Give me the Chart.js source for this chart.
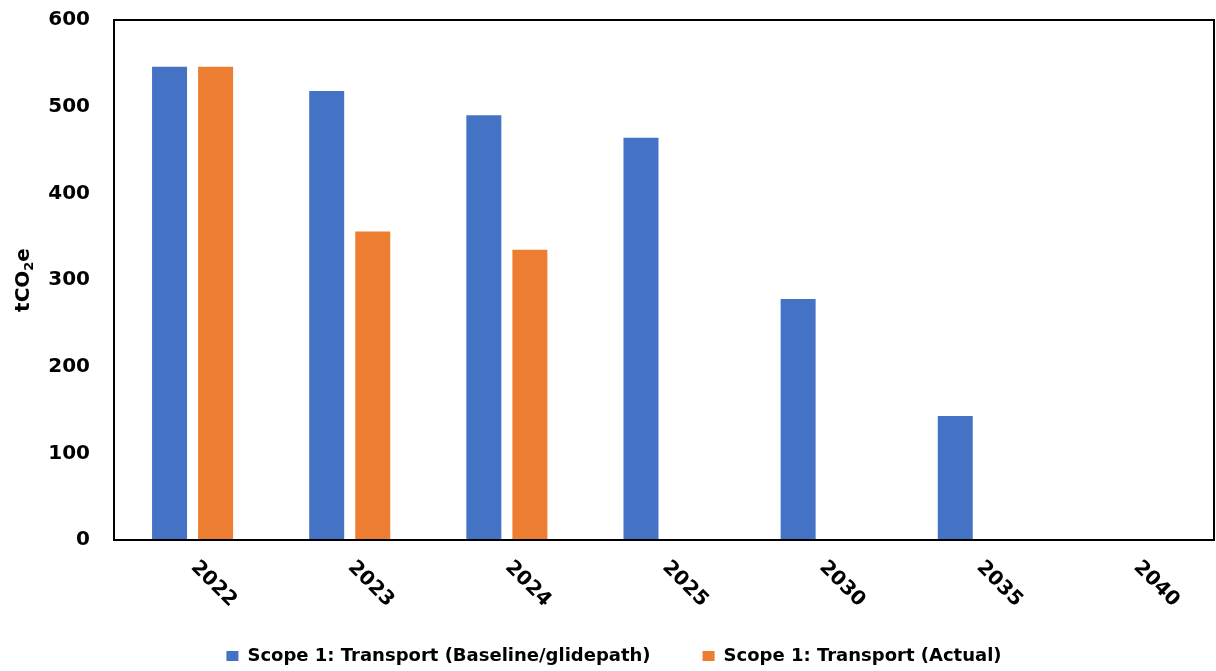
<!DOCTYPE html>
<html>
<head>
<meta charset="utf-8">
<script src="https://cdn.jsdelivr.net/npm/chart.js@4.4.1/dist/chart.umd.min.js"></script>
<style>
  html, body { margin: 0; padding: 0; background: #ffffff; }
  #wrap { width: 1216px; height: 671px; }
</style>
</head>
<body>
<div id="wrap"><canvas id="c"></canvas></div>
<script>
const years = ['2022', '2023', '2024', '2025', '2030', '2035', '2040'];
const baselineGlidepath = [546, 518, 490, 464, 278, 143, 0];
const actual = [546, 356, 335, null, null, null, null];
const yTicks = [0, 100, 200, 300, 400, 500, 600];

const FONT = '"DejaVu Sans", sans-serif';

// Frame around the plotting area
const frame = {
  id: 'frame',
  afterDatasetsDraw(chart) {
    const { ctx, chartArea: a } = chart;
    ctx.save();
    ctx.strokeStyle = '#000';
    ctx.lineWidth = 2;
    ctx.strokeRect(a.left, a.top, a.right - a.left, a.bottom - a.top);
    ctx.restore();
  }
};

// Year labels, slanted downward to the right under each category
const slantedYears = {
  id: 'slantedYears',
  afterDraw(chart) {
    const { ctx } = chart;
    const x = chart.scales.x;
    ctx.save();
    ctx.fillStyle = '#000';
    ctx.font = 'bold 20px ' + FONT;
    ctx.textAlign = 'center';
    ctx.textBaseline = 'middle';
    years.forEach((label, i) => {
      const px = x.getPixelForTick(i);
      ctx.save();
      ctx.translate(px + 21, x.top + 44);
      ctx.rotate(Math.PI / 4);
      ctx.fillText(label, 0, 0);
      ctx.restore();
    });
    ctx.restore();
  }
};

// Vertical unit title with a real subscript 2
const unitTitle = {
  id: 'unitTitle',
  afterDraw(chart) {
    const { ctx, chartArea: a } = chart;
    const parts = [
      { t: 'tCO', size: 20, dy: 0 },
      { t: '2', size: 13, dy: 4 },
      { t: 'e', size: 20, dy: 0 }
    ];
    ctx.save();
    ctx.fillStyle = '#000';
    ctx.textBaseline = 'alphabetic';
    ctx.textAlign = 'left';
    let total = 0;
    parts.forEach(p => {
      ctx.font = 'bold ' + p.size + 'px ' + FONT;
      p.w = ctx.measureText(p.t).width;
      total += p.w;
    });
    ctx.translate(29, (a.top + a.bottom) / 2);
    ctx.rotate(-Math.PI / 2);
    let cx = -total / 2;
    parts.forEach(p => {
      ctx.font = 'bold ' + p.size + 'px ' + FONT;
      ctx.fillText(p.t, cx, p.dy);
      cx += p.w;
    });
    ctx.restore();
  }
};

new Chart(document.getElementById('c'), {
  type: 'bar',
  data: {
    labels: years,
    datasets: [
      {
        label: 'Scope 1: Transport (Baseline/glidepath)',
        data: baselineGlidepath,
        backgroundColor: '#4472C4',
        categoryPercentage: 0.586,
        barPercentage: 0.76
      },
      {
        label: 'Scope 1: Transport (Actual)',
        data: actual,
        backgroundColor: '#ED7D31',
        categoryPercentage: 0.586,
        barPercentage: 0.76
      }
    ]
  },
  options: {
    responsive: true,
    maintainAspectRatio: false,
    animation: false,
    layout: { padding: { top: 20, right: 2, left: 14, bottom: -4 } },
    plugins: {
      tooltip: { enabled: false },
      legend: {
        position: 'bottom',
        labels: {
          color: '#000',
          font: { family: FONT, weight: 'bold', size: 18 },
          boxWidth: 12,
          boxHeight: 10,
          padding: 52
        }
      }
    },
    scales: {
      x: {
        grid: { display: false, drawTicks: false },
        border: { display: false },
        ticks: { display: false },
        afterFit(scale) { scale.height = 55; }
      },
      y: {
        min: 0,
        max: 600,
        afterBuildTicks(scale) { scale.ticks = yTicks.map(v => ({ value: v })); },
        afterFit(scale) {
          scale.width = 100;
          scale.paddingTop = 0;
          scale.paddingBottom = 0;
        },
        grid: { display: false, drawTicks: false },
        border: { display: false },
        ticks: {
          color: '#000',
          padding: 24,
          font: { family: FONT, weight: 'bold', size: 20 }
        },
        title: { display: false }
      }
    }
  },
  plugins: [frame, slantedYears, unitTitle]
});
</script>
</body>
</html>
